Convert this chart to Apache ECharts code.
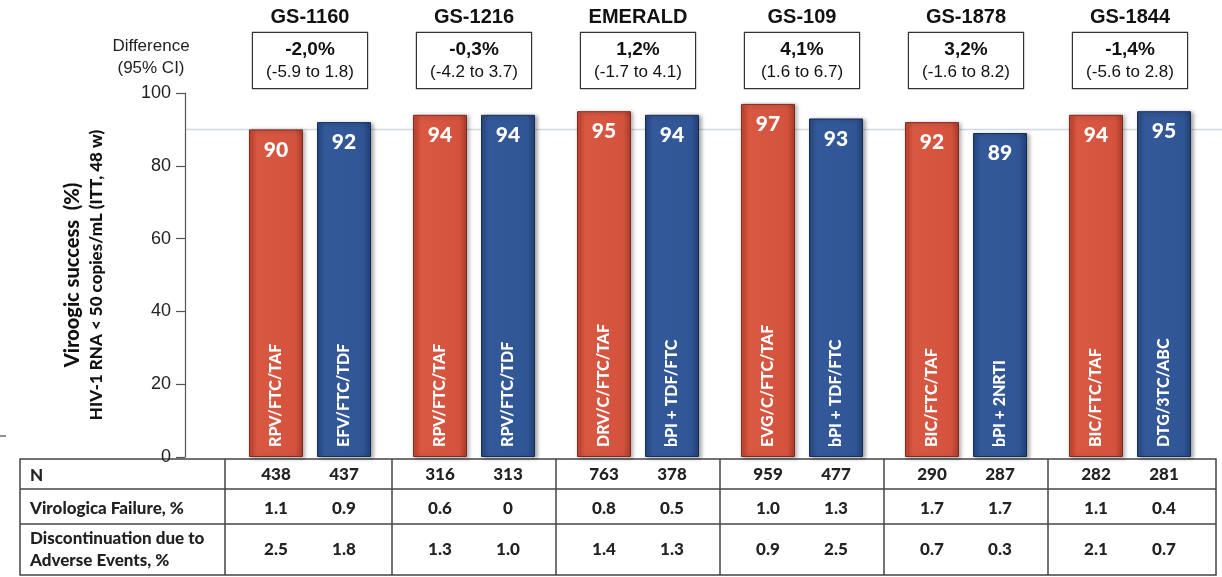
<!DOCTYPE html>
<html>
<head>
<meta charset="utf-8">
<script src="https://cdn.jsdelivr.net/npm/echarts@6/dist/echarts.min.js"></script>
<style>
html,body{margin:0;padding:0;background:#fff;}
#c{width:1222px;height:577px;}
</style>
</head>
<body>
<div id="c"></div>
<script>
// ---- data ----
const studies = ['GS-1160', 'GS-1216', 'EMERALD', 'GS-109', 'GS-1878', 'GS-1844'];
const diffPct = ['-2,0%', '-0,3%', '1,2%', '4,1%', '3,2%', '-1,4%'];
const diffCI = ['(-5.9 to 1.8)', '(-4.2 to 3.7)', '(-1.7 to 4.1)', '(1.6 to 6.7)', '(-1.6 to 8.2)', '(-5.6 to 2.8)'];
const armAValues = [90, 94, 95, 97, 92, 94];
const armBValues = [92, 94, 94, 93, 89, 95];
const armANames = ['RPV/FTC/TAF', 'RPV/FTC/TAF', 'DRV/C/FTC/TAF', 'EVG/C/FTC/TAF', 'BIC/FTC/TAF', 'BIC/FTC/TAF'];
const armBNames = ['EFV/FTC/TDF', 'RPV/FTC/TDF', 'bPI + TDF/FTC', 'bPI + TDF/FTC', 'bPI + 2NRTI', 'DTG/3TC/ABC'];
const nA = ['438', '316', '763', '959', '290', '282'];
const nB = ['437', '313', '378', '477', '287', '281'];
const vfA = ['1.1', '0.6', '0.8', '1.0', '1.7', '1.1'];
const vfB = ['0.9', '0', '0.5', '1.3', '1.7', '0.4'];
const discA = ['2.5', '1.3', '1.4', '0.9', '0.7', '2.1'];
const discB = ['1.8', '1.0', '1.3', '2.5', '0.3', '0.7'];
const rowLabels = ['N', 'Virologica Failure, %', 'Discontinuation due to\nAdverse Events, %'];
const yTicks = { min: 0, max: 100, interval: 20 };
const refLineValue = 90;

// ---- styles ----
const ARIAL = 'Liberation Sans, Arial, sans-serif';
const CAL = 'Lato, Noto Sans, sans-serif';
const redFill = new echarts.graphic.LinearGradient(0, 0, 1, 0, [
  { offset: 0, color: '#c2432f' }, { offset: 0.15, color: '#d85842' },
  { offset: 0.85, color: '#d5533e' }, { offset: 1, color: '#a93b2a' }]);
const blueFill = new echarts.graphic.LinearGradient(0, 0, 1, 0, [
  { offset: 0, color: '#284a84' }, { offset: 0.15, color: '#34599a' },
  { offset: 0.85, color: '#315696' }, { offset: 1, color: '#223f72' }]);

const BAR_W = 54, BAR_GAP = '26%';

const chart = echarts.init(document.getElementById('c'), null, { renderer: 'canvas' });

const tcell = (lh) => ({ width: 68, align: 'center', lineHeight: lh, fontFamily: CAL, fontWeight: 900, fontSize: 17, color: '#222' });
const tableRich = { a1: tcell(34), a2: tcell(33), a3: tcell(50) };

const option = {
  animation: false,
  backgroundColor: '#fff',
  grid: { left: 228, right: 10, top: 93, bottom: 120, containLabel: false },
  xAxis: [
    {
      type: 'category', data: studies, position: 'bottom',
      axisLine: { show: false }, axisTick: { show: false },
      axisLabel: {
        interval: 0, margin: 1,
        formatter: (v, i) => '{a1|' + nA[i] + '}{a1|' + nB[i] + '}\n{a2|' + vfA[i] + '}{a2|' + vfB[i] + '}\n{a3|' + discA[i] + '}{a3|' + discB[i] + '}',
        rich: tableRich
      }
    },
    {
      type: 'category', data: studies, position: 'top',
      axisLine: { show: false }, axisTick: { show: false },
      axisLabel: { interval: 0, margin: 66, fontFamily: ARIAL, fontWeight: 'bold', fontSize: 20, color: '#111' }
    },
    {
      type: 'category', data: studies, position: 'top',
      axisLine: { show: false }, axisTick: { show: false },
      axisLabel: {
        interval: 0, margin: 5,
        formatter: (v, i) => '{p|' + diffPct[i] + '}\n{c|' + diffCI[i] + '}',
        borderColor: '#333', borderWidth: 1.2, padding: [5, 3, 5, 3], width: 108, align: 'center',
        backgroundColor: '#fff',
        rich: {
          p: { fontFamily: ARIAL, fontWeight: 'bold', fontSize: 19, color: '#111', lineHeight: 23, align: 'center', width: 108 },
          c: { fontFamily: ARIAL, fontSize: 17, color: '#111', lineHeight: 22, align: 'center', width: 108 }
        }
      }
    }
  ],
  yAxis: [{
    type: 'value', min: yTicks.min, max: yTicks.max, interval: yTicks.interval, offset: 43,
    axisLine: { show: true, lineStyle: { color: '#555', width: 1.2 } },
    axisTick: { show: true, length: 9, lineStyle: { color: '#555', width: 1.2 } },
    axisLabel: { margin: 14, fontFamily: ARIAL, fontSize: 18, color: '#222' },
    splitLine: { show: false },
    name: '{a|Viroogic success  (%)}\n{b|HIV-1 RNA < 50 copies/mL (ITT, 48 w)}',
    nameLocation: 'middle', nameRotate: 90, nameGap: 77,
    nameTextStyle: {
      rich: {
        a: { fontFamily: CAL, fontWeight: 900, fontSize: 20, color: '#111', lineHeight: 27, align: 'center' },
        b: { fontFamily: CAL, fontWeight: 900, fontSize: 17, color: '#111', lineHeight: 22, align: 'center' }
      }
    }
  }],
  series: [
    {
      name: 'armA', type: 'bar', xAxisIndex: 0, data: armAValues, barWidth: BAR_W, barGap: BAR_GAP, z: 3,
      itemStyle: { color: redFill, borderColor: '#7d2c20', borderWidth: 1, shadowColor: 'rgba(0,0,0,0.35)', shadowBlur: 4, shadowOffsetX: 2, shadowOffsetY: 1 },
      label: { show: true, position: 'insideBottom', rotate: 90, align: 'left', verticalAlign: 'middle', distance: 10,
        formatter: p => armANames[p.dataIndex], color: '#fff', fontFamily: CAL, fontWeight: 900, fontSize: 16 }
    },
    {
      name: 'armB', type: 'bar', xAxisIndex: 0, data: armBValues, barWidth: BAR_W, barGap: BAR_GAP, z: 3,
      itemStyle: { color: blueFill, borderColor: '#172d55', borderWidth: 1, shadowColor: 'rgba(0,0,0,0.35)', shadowBlur: 4, shadowOffsetX: 2, shadowOffsetY: 1 },
      label: { show: true, position: 'insideBottom', rotate: 90, align: 'left', verticalAlign: 'middle', distance: 10,
        formatter: p => armBNames[p.dataIndex], color: '#fff', fontFamily: CAL, fontWeight: 900, fontSize: 16 }
    },
    {
      name: 'armAval', type: 'bar', xAxisIndex: 1, data: armAValues, barWidth: BAR_W, barGap: BAR_GAP, z: 4,
      itemStyle: { color: 'rgba(0,0,0,0)' }, silent: true,
      label: { show: true, position: 'insideTop', distance: 10, color: '#fff', fontFamily: CAL, fontWeight: 900, fontSize: 21 }
    },
    {
      name: 'armBval', type: 'bar', xAxisIndex: 1, data: armBValues, barWidth: BAR_W, barGap: BAR_GAP, z: 4,
      itemStyle: { color: 'rgba(0,0,0,0)' }, silent: true,
      label: { show: true, position: 'insideTop', distance: 10, color: '#fff', fontFamily: CAL, fontWeight: 900, fontSize: 21 }
    }
  ]
};
chart.setOption(option);

// ---- decorations positioned from the axes ----
const cx = studies.map((s, i) => chart.convertToPixel({ xAxisIndex: 0 }, i));
const yRef = chart.convertToPixel({ yAxisIndex: 0 }, refLineValue);
const yZero = chart.convertToPixel({ yAxisIndex: 0 }, 0);
const tTop = yZero + 2, tBot = 575, tLeft = 20, tRight = 1216, labelCol = 225;
const row1 = tTop + 30, row2 = row1 + 35;
const lineStyle = { stroke: '#444', lineWidth: 1.5 };
const g = [];
g.push({ type: 'line', z: 0, shape: { x1: 185, y1: yRef, x2: 1222, y2: yRef }, style: { stroke: '#cfdbe2', lineWidth: 1.5 } });
g.push({ type: 'rect', shape: { x: tLeft, y: tTop, width: tRight - tLeft, height: tBot - tTop }, style: { fill: 'none', stroke: '#444', lineWidth: 1.5 } });
g.push({ type: 'line', shape: { x1: tLeft, y1: row1, x2: tRight, y2: row1 }, style: lineStyle });
g.push({ type: 'line', shape: { x1: tLeft, y1: row2, x2: tRight, y2: row2 }, style: lineStyle });
g.push({ type: 'line', shape: { x1: labelCol, y1: tTop, x2: labelCol, y2: tBot }, style: lineStyle });
for (let i = 0; i < cx.length - 1; i++) {
  const xm = (cx[i] + cx[i + 1]) / 2;
  g.push({ type: 'line', shape: { x1: xm, y1: tTop, x2: xm, y2: tBot }, style: lineStyle });
}
const rowCenters = [(tTop + row1) / 2 + 2, (row1 + row2) / 2 + 2, (row2 + tBot) / 2];
rowLabels.forEach((t, i) => {
  g.push({ type: 'text', style: { x: 30, y: rowCenters[i], text: t, fill: '#222', font: '900 17px ' + CAL, verticalAlign: 'middle', align: 'left', lineHeight: 22 } });
});
g.push({ type: 'text', style: { x: 151, y: 46, text: 'Difference', fill: '#222', font: '17px ' + ARIAL, align: 'center', verticalAlign: 'middle' } });
g.push({ type: 'text', style: { x: 151, y: 68, text: '(95% CI)', fill: '#222', font: '17px ' + ARIAL, align: 'center', verticalAlign: 'middle' } });
g.push({ type: 'line', shape: { x1: 0, y1: 436, x2: 6, y2: 436 }, style: { stroke: '#222', lineWidth: 1 } });
chart.setOption({ graphic: g });
</script>
</body>
</html>
